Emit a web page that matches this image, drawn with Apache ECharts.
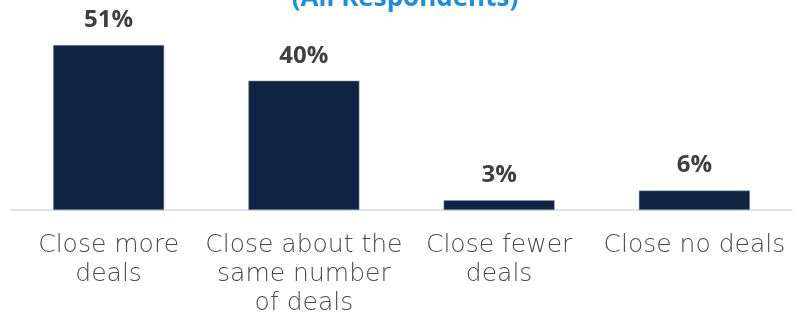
<!DOCTYPE html>
<html>
<head>
<meta charset="utf-8">
<script src="https://cdn.jsdelivr.net/npm/echarts@6/dist/echarts.min.js"></script>
<style>
  html, body { margin: 0; padding: 0; background: #ffffff; }
  #chart { width: 797px; height: 320px; }
</style>
</head>
<body>
<div id="chart"></div>
<script>
// Expected change in closed deals
const categories = ['Close more\ndeals', 'Close about the\nsame number\nof deals', 'Close fewer\ndeals', 'Close no deals'];
const shares = [51, 40, 3, 6];
const titleText = '(All Respondents)';

const chart = echarts.init(document.getElementById('chart'), null, { renderer: 'canvas' });
chart.setOption({
  animation: false,
  title: {
    text: titleText,
    left: 400,
    top: -19,
    textAlign: 'center',
    textStyle: { color: '#1f8ce0', fontSize: 26, fontWeight: 'bold', fontFamily: 'Open Sans' }
  },
  grid: { left: 11, right: 5, top: 16, height: 194 },
  xAxis: {
    type: 'category',
    data: categories,
    axisTick: { show: false },
    axisLine: { lineStyle: { color: '#d9d9d9', width: 1.5 } },
    axisLabel: {
      interval: 0,
      margin: 21,
      color: '#4a4a4a',
      fontSize: 25,
      lineHeight: 29,
      fontFamily: 'DejaVu Sans',
      fontWeight: 200
    }
  },
  yAxis: {
    type: 'value',
    min: 0,
    max: 60,
    show: false,
    splitLine: { show: false }
  },
  series: [{
    type: 'bar',
    data: shares,
    barWidth: 111,
    itemStyle: { color: '#0f2342', borderColor: '#8a99ad', borderWidth: 0.5 },
    label: {
      show: true,
      position: 'top',
      distance: 13,
      formatter: '{c}%',
      color: '#404040',
      fontSize: 24,
      fontWeight: 'bold',
      fontFamily: 'Open Sans'
    }
  }]
});
</script>
</body>
</html>
